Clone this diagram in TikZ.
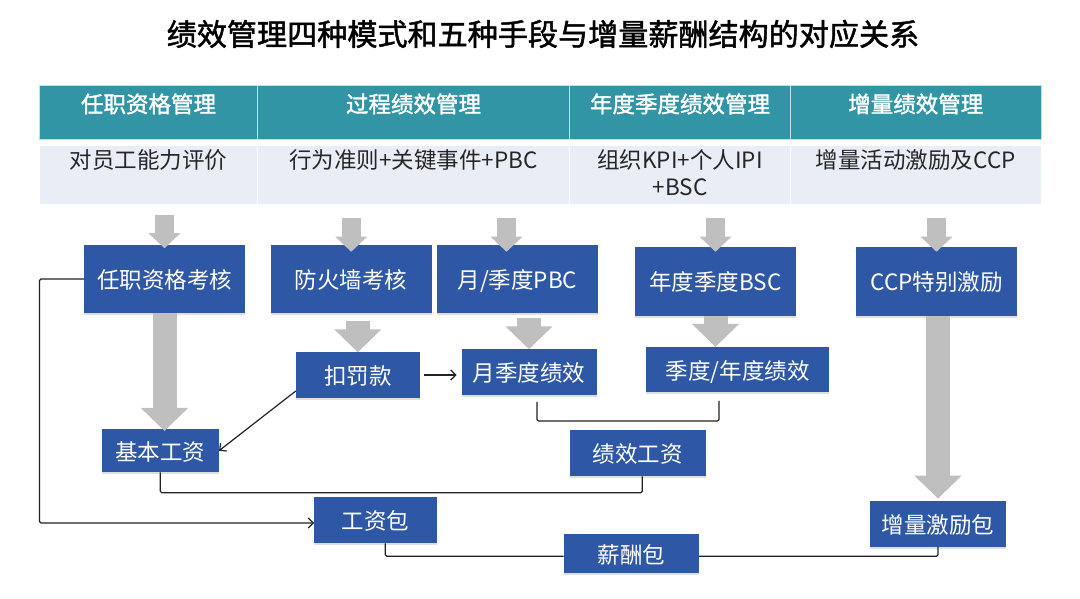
\documentclass[tikz,border=0pt]{standalone}
\usepackage{xcolor}
\usepackage{fontspec}
\setmainfont{Noto Sans CJK SC}
\newfontfamily\strongfont[FakeBold=1.6]{Noto Sans CJK SC}
\usetikzlibrary{positioning, arrows.meta, shadows}

\definecolor{headteal}{RGB}{50,149,166}
\definecolor{desclight}{RGB}{233,237,246}
\definecolor{boxblue}{RGB}{46,88,166}
\definecolor{arrowgrey}{RGB}{191,191,191}
\definecolor{linedark}{RGB}{34,34,34}

\begin{document}
\begin{tikzpicture}[
    x=1pt,
    y=-1pt,
    font=\fontsize{22.5}{27}\selectfont,
    headcell/.style={
        rectangle,
        draw=white!70!headteal,
        line width=0.8pt,
        fill=headteal,
        text=white,
        align=center,
        inner ysep=0pt,
        outer sep=0pt,
        text height=27pt,
        text depth=27pt,
        font=\fontsize{22.5}{27}\selectfont\strongfont
    },
    desccell/.style={
        rectangle,
        draw=white,
        line width=0.8pt,
        fill=desclight,
        text=black!85,
        align=center,
        inner ysep=0pt,
        outer sep=0pt,
        text height=24pt,
        text depth=35pt
    },
    bluebox/.style={
        rectangle,
        fill=boxblue,
        text=white,
        align=center,
        inner sep=0pt,
        outer sep=0pt,
        text height=20pt,
        text depth=1pt,
        drop shadow={shadow xshift=0pt, shadow yshift=-2pt, opacity=0.25}
    },
    largebox/.style={
        bluebox,
        minimum width=161pt,
        minimum height=68.5pt
    },
    smallarrow/.style={
        draw=arrowgrey,
        line width=19pt,
        -{Triangle[width=31pt,length=15pt]}
    },
    bigarrow/.style={
        draw=arrowgrey,
        line width=24pt,
        -{Triangle[width=46pt,length=23pt]}
    },
    thinline/.style={
        draw=linedark,
        line width=1.2pt,
        rounded corners=1.5pt
    },
    thinarrow/.style={
        thinline,
        -{Straight Barb[length=5pt,width=10pt]}
    }
]
\useasboundingbox (0,0) rectangle (1080,599);

% Title
\node[font=\fontsize{30.1}{36}\selectfont\strongfont] (title) at (543,34) {绩效管理四种模式和五种手段与增量薪酬结构的对应关系};

% Header row
\node[headcell, minimum width=218pt, anchor=north west] (hd1) at (39.5,85.5) {任职资格管理};
\node[headcell, minimum width=312pt, right=0pt of hd1] (hd2) {过程绩效管理};
\node[headcell, minimum width=221pt, right=0pt of hd2] (hd3) {年度季度绩效管理};
\node[headcell, minimum width=250.5pt, right=0pt of hd3] (hd4) {增量绩效管理};

% Description row
\node[desccell, minimum width=218pt, below=5.5pt of hd1] (ds1) {对员工能力评价};
\node[desccell, minimum width=312pt, below=5.5pt of hd2] (ds2) {行为准则+关键事件+PBC};
\node[desccell, minimum width=221pt, below=5.5pt of hd3, text height=51pt, text depth=8pt] (ds3) {组织KPI+个人IPI\\+BSC};
\node[desccell, minimum width=250.5pt, below=5.5pt of hd4] (ds4) {增量活动激励及CCP};

% Assessment boxes
\node[largebox] (rz) at (164.5,279) {任职资格考核};
\node[largebox, right=25.7pt of rz] (fh) {防火墙考核};
\node[largebox, right=5.3pt of fh] (pbc) {月/季度PBC};
\node[largebox, right=37pt of pbc, yshift=-2.3pt] (bsc) {年度季度BSC};
\node[largebox, right=60pt of bsc] (ccp) {CCP特别激励};

% Results
\node[bluebox, minimum width=124pt, minimum height=45.5pt, below=39pt of fh, xshift=6.6pt] (kf) {扣罚款};
\node[bluebox, minimum width=135pt, minimum height=46pt, below=36pt of pbc, xshift=11.5pt] (yq) {月季度绩效};
\node[bluebox, minimum width=182.5pt, minimum height=45.5pt, below=31.3pt of bsc, xshift=22.2pt] (jd) {季度/年度绩效};

% Pay items
\node[bluebox, minimum width=117.5pt, minimum height=43.5pt, below=115.7pt of rz, xshift=-4.2pt] (jb) {基本工资};
\node[bluebox, minimum width=136pt, minimum height=46pt, below=35pt of yq, xshift=108.5pt] (jx) {绩效工资};
\node[bluebox, minimum width=122.5pt, minimum height=46pt, below=25pt of jb, xshift=215pt] (gz) {工资包};
\node[bluebox, minimum width=136pt, minimum height=46pt, below=185.3pt of ccp, xshift=1.5pt] (zl) {增量激励包};
\node[bluebox, minimum width=135.5pt, minimum height=38.5pt, below=58pt of jx, xshift=-6.2pt] (xc) {薪酬包};

% Free corners of the thin lines
\coordinate (leftturn) at (39.5,523);
\coordinate (barturn) at (627,421);
\coordinate (payturn) at (400,492.7);
\coordinate (totalturn) at (480,556.3);

% Grey arrows from the description row
\draw[smallarrow, shorten <=11pt, shorten >=-3.5pt] (ds1.south -| rz.north) -- (rz.north);
\draw[smallarrow, shorten <=14pt, shorten >=-7pt] (ds2.south -| fh.north) -- (fh.north);
\draw[smallarrow, shorten <=14pt, shorten >=-7pt] (ds2.south -| pbc.north) ++(-11,0) -- ([xshift=-11pt]pbc.north);
\draw[smallarrow, shorten <=14pt, shorten >=-4.7pt] (ds3.south -| bsc.north) -- (bsc.north);
\draw[smallarrow, shorten <=14pt, shorten >=-4.7pt] (ds4.south -| ccp.north) -- (ccp.north);

% Grey arrows between boxes
\draw[bigarrow, shorten >=-2pt] (rz.south) -- (rz.south |- jb.north);
\draw[bigarrow, shorten <=7.5pt] (kf.north |- fh.south) -- (kf.north);
\draw[bigarrow, shorten <=5pt] (yq.north |- pbc.south) -- (yq.north);
\draw[bigarrow] (bsc.south) -- (bsc.south |- jd.north);
\draw[bigarrow, shorten >=2.3pt] (zl.north |- ccp.south) -- (zl.north);

% Thin connectors
\draw[thinarrow] (rz.west) -| (leftturn) -- (leftturn -| gz.west);
\draw[thinarrow, shorten <=4.3pt, shorten >=5pt] (kf.east) -- (kf.east -| yq.west);
\draw[thinarrow] ([yshift=-16pt]kf.west) -- (jb.east);
\draw[thinline] ([xshift=8pt,yshift=-6.5pt]yq.south) |- (barturn) -| ([xshift=-18.7pt,yshift=-8.5pt]jd.south);
\draw[thinline] (jb.south) |- (payturn) -| ([xshift=4.7pt]jx.south);
\draw[thinline] ([xshift=10pt]gz.south) |- (totalturn) -- (totalturn -| xc.west);
\draw[thinline] (zl.south) |- (totalturn -| xc.east);

\end{tikzpicture}
\end{document}
